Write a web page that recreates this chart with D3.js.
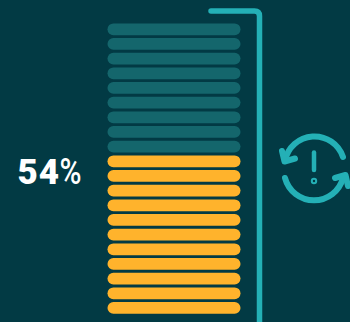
<!DOCTYPE html>
<html>
<head>
<meta charset="utf-8">
<script src="https://cdn.jsdelivr.net/npm/d3@7"></script>
<style>
  html, body { margin: 0; padding: 0; background: #023a44; overflow: hidden; }
  svg { display: block; }
</style>
</head>
<body>
<svg id="chart" width="350" height="322"></svg>
<script>
// Stacked gauge: a column of pill-shaped units, lit from the bottom up.
const share = [54];
const unitIndex = d3.range(20);
const shareDigits = ["54"];
const shareSign = ["%"];
const gaugeDomain = [0, 100];

const colors = { bg: "#023a44", off: "#14666c", on: "#ffb32c", accent: "#24b0b6", text: "#ffffff" };

const svg = d3.select("#chart");
svg.append("rect").attr("width", 350).attr("height", 322).attr("fill", colors.bg);

// Band scale runs bottom-to-top so unit 0 is the lowest pill.
const y = d3.scaleBand().domain(unitIndex).range([313.8, 23.4]).paddingInner(0.2);
const x = d3.scaleLinear().domain([0, 1]).range([107.5, 240.5]);
const units = d3.scaleLinear().domain(gaugeDomain).range([0, unitIndex.length]);
const litCount = Math.round(units(share[0]));

svg.append("g").selectAll("rect").data(unitIndex).join("rect")
  .attr("x", x(0))
  .attr("y", d => y(d))
  .attr("width", x(1) - x(0))
  .attr("height", y.bandwidth())
  .attr("rx", y.bandwidth() / 2)
  .attr("fill", d => d < litCount ? colors.on : colors.off);

// Bracket framing the column on its top and right.
svg.append("path")
  .attr("d", "M211,11 H254.5 Q259.5,11 259.5,16 V324")
  .attr("fill", "none")
  .attr("stroke", colors.accent)
  .attr("stroke-width", 5.5)
  .attr("stroke-linecap", "round");

// Large percentage readout: heavy digits, lighter sign.
const readout = svg.append("text")
  .attr("y", 183.5)
  .attr("font-family", "Roboto, sans-serif")
  .attr("font-size", 35)
  .attr("fill", colors.text);
readout.append("tspan").attr("x", 17.5).attr("font-weight", 900).attr("letter-spacing", 1).text(shareDigits[0]);
readout.append("tspan").attr("x", 59.5).attr("font-weight", 500).attr("font-size", 36).attr("textLength", 22).attr("lengthAdjust", "spacingAndGlyphs").text(shareSign[0]);

// Refresh-with-warning icon.
const icon = svg.append("g")
  .attr("fill", "none")
  .attr("stroke", colors.accent)
  .attr("stroke-linecap", "round")
  .attr("stroke-linejoin", "round");

icon.append("path").attr("stroke-width", 6).attr("d", "M285,161 A30,30 0 0 1 343,157");
icon.append("path").attr("stroke-width", 6).attr("d", "M285,178 A30,30 0 0 0 343,178");
icon.append("path").attr("stroke-width", 6).attr("d", "M282,151 L284.5,161.5 L295,158.5");
icon.append("path").attr("stroke-width", 6).attr("d", "M335,178 L345.5,175 L348,186");
icon.append("line").attr("x1", 314).attr("x2", 314).attr("y1", 152.5).attr("y2", 170).attr("stroke-width", 4.5);
icon.append("circle").attr("cx", 314).attr("cy", 181).attr("r", 2.2).attr("stroke-width", 2);
</script>
</body>
</html>
